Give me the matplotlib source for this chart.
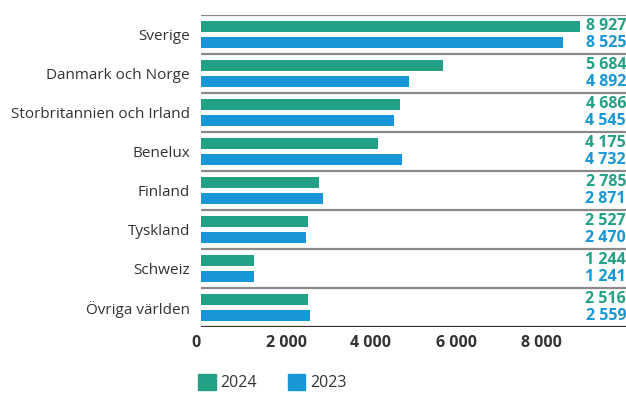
import numpy as np
import matplotlib.pyplot as plt
from matplotlib.patches import Patch
from matplotlib.transforms import blended_transform_factory

GREEN = '#22a187'
BLUE = '#1897d6'
DARK = '#333333'
GRID = '#8a8a8a'

plt.rcParams['font.family'] = ['Open Sans', 'DejaVu Sans']
plt.rcParams['text.color'] = DARK

regions = ["Sverige", "Danmark och Norge", "Storbritannien och Irland", "Benelux",
           "Finland", "Tyskland", "Schweiz", "Övriga världen"]
v2024 = [8927, 5684, 4686, 4175, 2785, 2527, 1244, 2516]
v2023 = [8525, 4892, 4545, 4732, 2871, 2470, 1241, 2559]
xticks = [0, 2000, 4000, 6000, 8000]
xticklabels = ["0", "2 000", "4 000", "6 000", "8 000"]


def fmt(v):
    return f"{v:,}".replace(",", " ")


fig = plt.figure(figsize=(6.26, 3.94), dpi=100)
ax = fig.add_axes([201 / 626, 67 / 394, 425 / 626, 312 / 394])

idx = np.arange(len(regions))
h = 0.28
ax.barh(idx + 0.295, v2024, height=h, color=GREEN)
ax.barh(idx + 0.705, v2023, height=h, color=BLUE)

# group separators and baseline
for i in range(len(regions)):
    ax.axhline(i, color=GRID, lw=1.6, zorder=0)
ax.axhline(len(regions), color=DARK, lw=1.6)

trans = blended_transform_factory(ax.transAxes, ax.transData)
for i in idx:
    ax.text(1.0, i + 0.29, fmt(v2024[i]), transform=trans, ha='right', va='center',
            color=GREEN, fontsize=11.5, fontweight='bold')
    ax.text(1.0, i + 0.72, fmt(v2023[i]), transform=trans, ha='right', va='center',
            color=BLUE, fontsize=11.5, fontweight='bold')
    ax.text(-0.026, i + 0.55, regions[i], transform=trans, ha='right', va='center',
            color=DARK, fontsize=11)

ax.set_xlim(0, 10000)
ax.set_ylim(len(regions), 0)
ax.set_yticks([])
ax.set_xticks(xticks)
ax.set_xticklabels(xticklabels, fontweight='bold', fontsize=11.5, color=DARK)
ax.get_xticklabels()[0].set_ha('right')
ax.tick_params(axis='x', length=0, pad=6)
for s in ax.spines.values():
    s.set_visible(False)

handles = [Patch(color=GREEN, label='2024'), Patch(color=BLUE, label='2023')]
fig.legend(handles=handles, loc='lower left', bbox_to_anchor=(184 / 626, -0.03),
           ncol=2, frameon=False, fontsize=11.5, handlelength=1.1, handleheight=1.1,
           handletextpad=0.3, columnspacing=1.9)

fig.savefig('out.png', dpi=100)
